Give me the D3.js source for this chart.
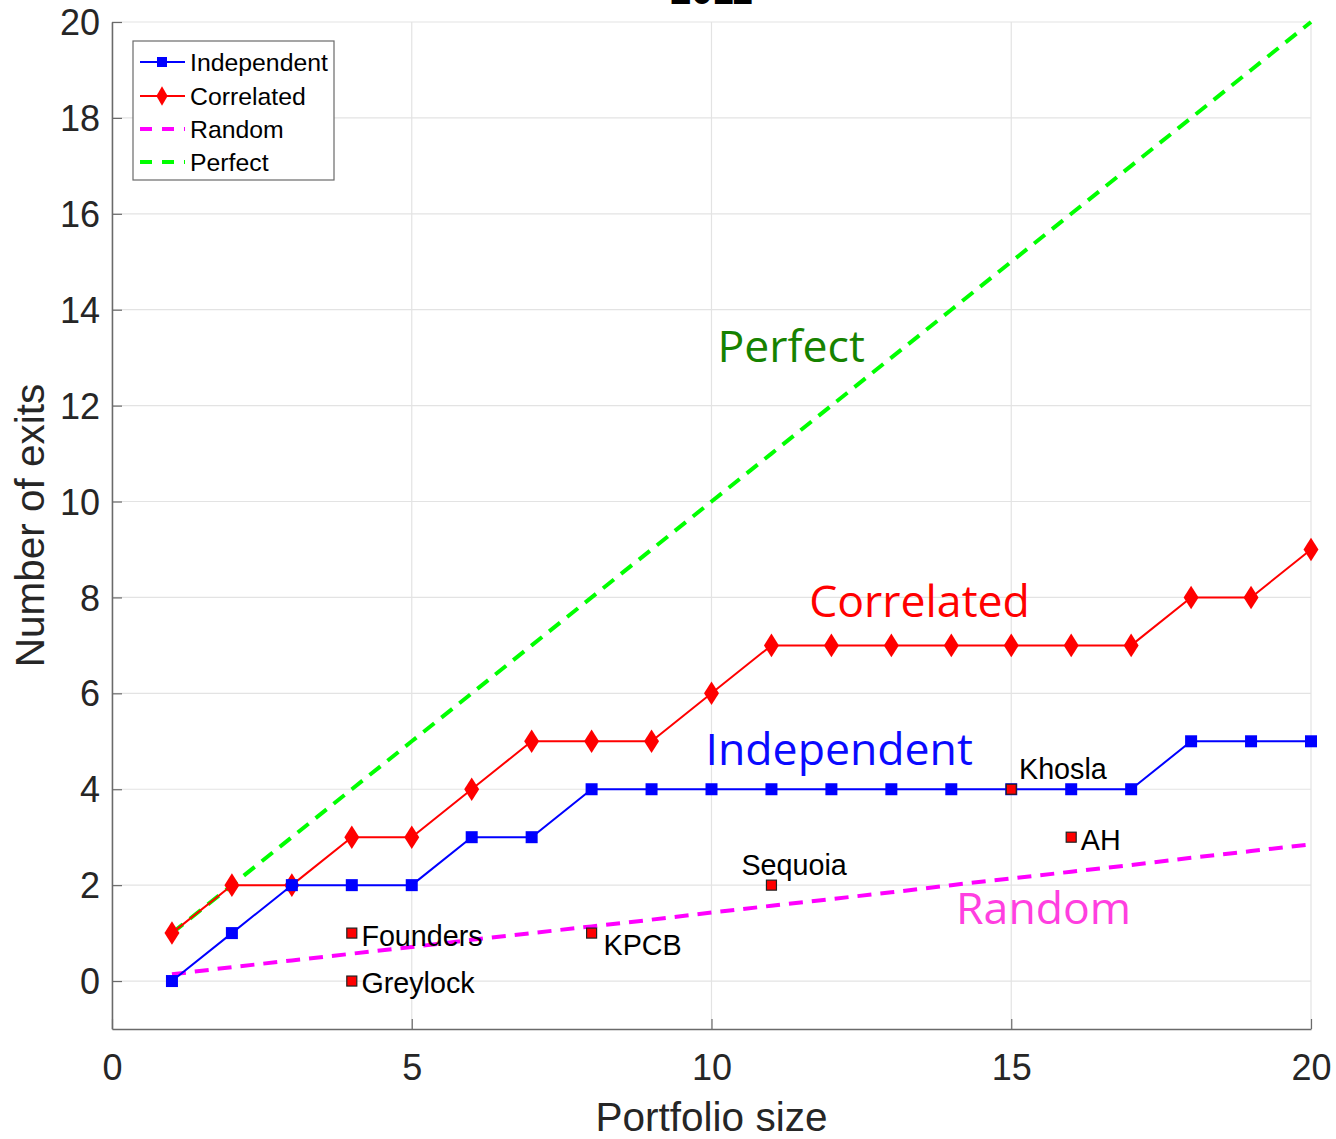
<!DOCTYPE html>
<html>
<head>
<meta charset="utf-8">
<script src="https://cdn.jsdelivr.net/npm/d3@7"></script>
<style>
  html, body { margin: 0; padding: 0; background: #fff; }
  svg { display: block; }
</style>
</head>
<body>
<svg id="chart" width="1336" height="1139"></svg>
<script>
// Portfolio size on the x axis
const portfolioSize = [1, 2, 3, 4, 5, 6, 7, 8, 9, 10, 11, 12, 13, 14, 15, 16, 17, 18, 19, 20];
// Number of exits for each strategy
const independentExits = [0, 1, 2, 2, 2, 3, 3, 4, 4, 4, 4, 4, 4, 4, 4, 4, 4, 5, 5, 5];
const correlatedExits  = [1, 2, 2, 3, 3, 4, 5, 5, 5, 6, 7, 7, 7, 7, 7, 7, 7, 8, 8, 9];
const randomExits      = [0.14, 0.29, 0.43, 0.57, 0.71, 0.86, 1.00, 1.14, 1.28, 1.43,
                          1.57, 1.71, 1.85, 2.00, 2.14, 2.28, 2.42, 2.57, 2.71, 2.85];
const perfectExits     = [1, 2, 3, 4, 5, 6, 7, 8, 9, 10, 11, 12, 13, 14, 15, 16, 17, 18, 19, 20];

// Individual funds: portfolio size and exits
const fundNames = ["Greylock", "Founders", "KPCB", "Sequoia", "Khosla", "AH"];
const fundSize  = [4, 4, 8, 11, 15, 16];
const fundExits = [0, 1, 1, 2, 4, 3];

// Axis ticks
const xTicks = [0, 5, 10, 15, 20];
const yTicks = [0, 2, 4, 6, 8, 10, 12, 14, 16, 18, 20];

const chartTitle = "2011";
const legendLabels = ["Independent", "Correlated", "Random", "Perfect"];

const svg = d3.select("#chart");
const x = d3.scaleLinear().domain([0, 20]).range([112, 1311]);
const y = d3.scaleLinear().domain([-1, 20]).range([1029, 22]);

const AX = "#262626";
const TICKFONT = "'Liberation Sans', Arial, sans-serif";

// Grid
const grid = svg.append("g");
grid.selectAll("line.h").data(yTicks).join("line")
  .attr("x1", x(0)).attr("x2", x(20))
  .attr("y1", d => y(d)).attr("y2", d => y(d))
  .attr("stroke", "#e3e3e3").attr("stroke-width", 1.2);
grid.selectAll("line.v").data(xTicks).join("line")
  .attr("y1", y(-1)).attr("y2", y(20))
  .attr("x1", d => x(d)).attr("x2", d => x(d))
  .attr("stroke", "#e3e3e3").attr("stroke-width", 1.2);

// Axes (ticks inward)
const xAxis = d3.axisBottom(x).tickValues(xTicks).tickSizeInner(-10).tickSizeOuter(0).tickPadding(25);
const yAxis = d3.axisLeft(y).tickValues(yTicks).tickSizeInner(-10).tickSizeOuter(0).tickPadding(12);

const gx = svg.append("g").attr("transform", `translate(0,${y(-1)})`).call(xAxis);
const gy = svg.append("g").attr("transform", `translate(${x(0)},0)`).call(yAxis);
[gx, gy].forEach(g => {
  g.select(".domain").attr("stroke", "#6a6a6a").attr("stroke-width", 1.5);
  g.selectAll(".tick line").attr("stroke", "#6a6a6a").attr("stroke-width", 1.2);
  g.selectAll(".tick text").attr("fill", AX).style("font-family", TICKFONT).style("font-size", "36px");
});
gx.selectAll(".tick text").attr("dy", "0.71em");
gy.selectAll(".tick text").attr("dy", "0.35em");

// Axis titles
svg.append("text").attr("x", x(10)).attr("y", 1131)
  .attr("text-anchor", "middle").attr("fill", AX)
  .style("font-family", TICKFONT).style("font-size", "40.5px")
  .text("Portfolio size");
svg.append("text").attr("transform", `translate(44,${y(9.5)}) rotate(-90)`)
  .attr("text-anchor", "middle").attr("fill", AX)
  .style("font-family", TICKFONT).style("font-size", "40.5px")
  .text("Number of exits");

// Title (sits mostly above the canvas)
svg.append("text").attr("x", x(10)).attr("y", 4)
  .attr("text-anchor", "middle").attr("fill", "#000")
  .style("font-family", TICKFONT).style("font-size", "38px").style("font-weight", "bold")
  .text(chartTitle);

const line = d3.line().x(d => x(d[0])).y(d => y(d[1]));
const zip = ys => portfolioSize.map((v, i) => [v, ys[i]]);

// Perfect and Random reference lines
svg.append("path").datum(zip(perfectExits)).attr("d", line)
  .attr("fill", "none").attr("stroke", "#00ff00").attr("stroke-width", 4)
  .attr("stroke-dasharray", "14,9");
svg.append("path").datum(zip(randomExits)).attr("d", line)
  .attr("fill", "none").attr("stroke", "#ff00ff").attr("stroke-width", 4)
  .attr("stroke-dasharray", "14,9");

// Correlated
svg.append("path").datum(zip(correlatedExits)).attr("d", line)
  .attr("fill", "none").attr("stroke", "#ff0000").attr("stroke-width", 2);
const diamond = d3.symbol().type(d3.symbolDiamond).size(160);
svg.append("g").selectAll("path").data(zip(correlatedExits)).join("path")
  .attr("d", diamond)
  .attr("transform", d => `translate(${x(d[0])},${y(d[1])}) scale(1.1,1)`)
  .attr("fill", "#ff0000");

// Independent
svg.append("path").datum(zip(independentExits)).attr("d", line)
  .attr("fill", "none").attr("stroke", "#0000ff").attr("stroke-width", 2);
svg.append("g").selectAll("rect").data(zip(independentExits)).join("rect")
  .attr("x", d => x(d[0]) - 6).attr("y", d => y(d[1]) - 6)
  .attr("width", 12).attr("height", 12).attr("fill", "#0000ff");

// Individual funds
const funds = fundNames.map((n, i) => ({ name: n, s: fundSize[i], e: fundExits[i] }));
svg.append("g").selectAll("rect").data(funds).join("rect")
  .attr("x", d => x(d.s) - 5).attr("y", d => y(d.e) - 5)
  .attr("width", 10).attr("height", 10)
  .attr("fill", "#ff0000").attr("stroke", "#222").attr("stroke-width", 1.2);

// Fund label offsets in data units (dx, dy)
const fundLabelOffset = {
  Greylock: [0.16, -0.05],
  Founders: [0.16, -0.05],
  KPCB:     [0.2, -0.25],
  Sequoia:  [-0.5, 0.42],
  Khosla:   [0.13, 0.43],
  AH:       [0.16, -0.05]
};
svg.append("g").selectAll("text").data(funds).join("text")
  .attr("x", d => x(d.s + fundLabelOffset[d.name][0]))
  .attr("y", d => y(d.e + fundLabelOffset[d.name][1]))
  .attr("dy", "0.35em")
  .attr("fill", "#000")
  .style("font-family", TICKFONT).style("font-size", "28.7px")
  .text(d => d.name);

// Series annotations
const ANNOFONT = "'Open Sans', 'Noto Sans', sans-serif";
const annotations = [
  { text: "Perfect",     px: 10.1,  py: 12.9, color: "#168200" },
  { text: "Correlated",  px: 11.63, py: 7.6,  color: "#ff0000" },
  { text: "Independent", px: 9.9,   py: 4.5,  color: "#0a0aff" },
  { text: "Random",      px: 14.08, py: 1.2,  color: "#ff3fe0" }
];
svg.append("g").selectAll("text").data(annotations).join("text")
  .attr("x", d => x(d.px)).attr("y", d => y(d.py))
  .attr("fill", d => d.color)
  .style("font-family", ANNOFONT).style("font-size", "44.6px")
  .text(d => d.text);

// Legend
const lg = svg.append("g").attr("transform", "translate(133,41)");
lg.append("rect").attr("width", 201).attr("height", 139)
  .attr("fill", "#fff").attr("stroke", "#6a6a6a").attr("stroke-width", 1.2);
const rowY = [21, 55, 88, 121];
legendLabels.forEach((lab, i) => {
  const g = lg.append("g").attr("transform", `translate(0,${rowY[i]})`);
  if (i === 0) {
    g.append("line").attr("x1", 7).attr("x2", 52).attr("stroke", "#0000ff").attr("stroke-width", 2);
    g.append("rect").attr("x", 24).attr("y", -5).attr("width", 10).attr("height", 10).attr("fill", "#0000ff");
  } else if (i === 1) {
    g.append("line").attr("x1", 7).attr("x2", 52).attr("stroke", "#ff0000").attr("stroke-width", 2);
    g.append("path").attr("d", d3.symbol().type(d3.symbolDiamond).size(110)).attr("transform", "translate(29,0)").attr("fill", "#ff0000");
  } else {
    g.append("line").attr("x1", 7).attr("x2", 52)
      .attr("stroke", i === 2 ? "#ff00ff" : "#00ff00").attr("stroke-width", 4)
      .attr("stroke-dasharray", "12,10");
  }
  g.append("text").attr("x", 57).attr("dy", "0.35em").attr("fill", "#000")
    .style("font-family", TICKFONT).style("font-size", "24.8px").text(lab);
});
</script>
</body>
</html>
